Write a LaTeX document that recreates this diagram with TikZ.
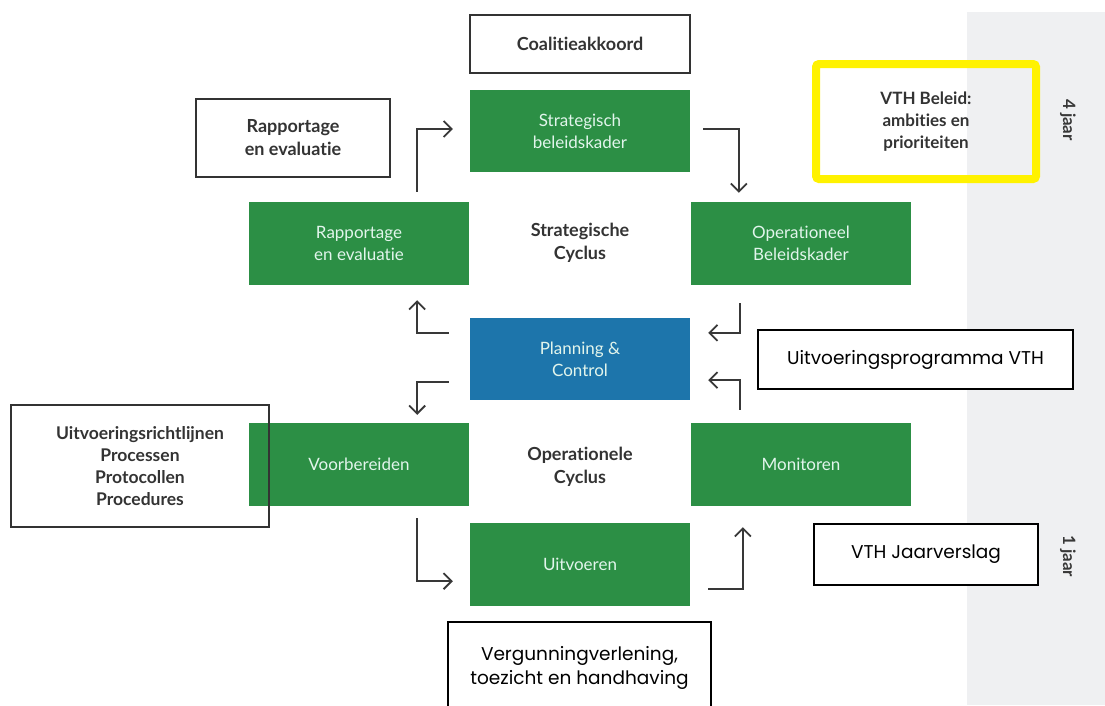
\documentclass[tikz,border=0pt]{standalone}
\usepackage{fontspec}
\setmainfont{Lato}[Ligatures=NoCommon]
\newfontfamily\popfont{Poppins}
\usetikzlibrary{arrows.meta}

\begin{document}
\begin{tikzpicture}[x=1pt,y=-1pt,
  flow/.style={draw=black!78,line width=1.8pt,-{Straight Barb[length=8pt,width=16pt]}},
  greenbox/.style={fill=vthgreen,text=lighttext,minimum width=220pt,minimum height=83pt,align=center,font=\fontsize{17}{22}\selectfont},
  notebox/.style={draw=black!80,line width=1.2pt,fill=white,text=black!80,align=center,font=\fontsize{18}{23}\selectfont\bfseries},
  plainbox/.style={draw=black,line width=1.3pt,fill=white,align=center,font=\popfont\fontsize{18.5}{24}\selectfont},
  yearlabel/.style={rotate=-90,font=\fontsize{17}{20}\selectfont\bfseries,text=black!78}]
\definecolor{vthgreen}{RGB}{44,143,69}
\definecolor{vthblue}{RGB}{29,117,171}
\definecolor{lighttext}{RGB}{226,245,236}
\definecolor{stripgrey}{RGB}{239,240,242}
\useasboundingbox (0,0) rectangle (1105,705);
\fill[stripgrey] (967,12) rectangle (1105,705);

% yearly labels
\node[yearlabel] (four) at (1068,120) {4 jaar};
\node[yearlabel] (one) at (1068,556) {1 jaar};

% strategic cycle
\node[notebox,minimum width=220pt,minimum height=58pt] (coal) at (580,44) {Coalitieakkoord};
\node[greenbox,minimum height=82pt] (strat) at (580,131) {Strategisch\\beleidskader};
\node[notebox,minimum width=194pt,minimum height=78pt] (rapw) at (293,138) {Rapportage\\en evaluatie};
\node[greenbox] (rapg) at (359,243.5) {Rapportage\\en evaluatie};
\node[greenbox] (oper) at (801,243.5) {Operationeel\\Beleidskader};
\node[text=black!80,align=center,font=\fontsize{18}{23}\selectfont\bfseries] (strcyc) at (580,243) {Strategische\\Cyclus};
\node[draw=yellow,line width=8pt,rounded corners=3pt,minimum width=220pt,minimum height=115pt,align=center,text=black!80,font=\fontsize{17}{22}\selectfont\bfseries] (beleid) at (926,121.5) {VTH Beleid:\\ambities en\\prioriteiten};

% planning & control
\node[greenbox,fill=vthblue,minimum height=82pt] (pc) at (580,359) {Planning \&\\Control};
\node[plainbox,minimum width=315pt,minimum height=59pt] (uitp) at (915.5,359.5) {Uitvoeringsprogramma VTH};

% operational cycle
\node[greenbox] (voor) at (359,464.5) {Voorbereiden};
\node[notebox,fill=none,minimum width=258pt,minimum height=122pt,font=\fontsize{17.5}{22}\selectfont\bfseries] (uitr) at (140,466) {Uitvoeringsrichtlijnen\\Processen\\Protocollen\\Procedures};
\node[greenbox] (mon) at (801,464.5) {Monitoren};
\node[text=black!80,align=center,font=\fontsize{18}{23}\selectfont\bfseries] (opcyc) at (580,467) {Operationele\\Cyclus};
\node[greenbox] (uitv) at (580,564.5) {Uitvoeren};
\node[plainbox,minimum width=224pt,minimum height=61pt] (jaar) at (926,554.5) {VTH Jaarverslag};
\node[plainbox,minimum width=263pt,minimum height=92pt] (verg) at (579.5,668) {Vergunningverlening,\\toezicht en handhaving};

% elbow arrows round the cycles
\draw[flow] ([xshift=-52pt,yshift=10pt]rapg.north east) |- ([xshift=-17pt,yshift=2pt]strat.west);
\draw[flow] ([xshift=13pt,yshift=2pt]strat.east) -| ([xshift=48pt,yshift=9pt]oper.north west);
\draw[flow] ([xshift=49pt,yshift=-18pt]oper.south west) |- ([xshift=18pt,yshift=-15pt]pc.north east);
\draw[flow] ([xshift=49pt,yshift=13pt]mon.north west) |- ([xshift=18pt,yshift=20pt]pc.south east);
\draw[flow] ([xshift=-21pt,yshift=-15pt]pc.north west) -| ([xshift=-52pt,yshift=-15pt]rapg.south east);
\draw[flow] ([xshift=-21pt,yshift=18pt]pc.south west) -| ([xshift=-52pt,yshift=8pt]voor.north east);
\draw[flow] ([xshift=-52pt,yshift=-12pt]voor.south east) |- ([xshift=-17pt,yshift=25pt]uitv.south west);
\draw[flow] ([xshift=18pt,yshift=17pt]uitv.south east) -| ([xshift=52pt,yshift=-21pt]mon.south west);
\end{tikzpicture}
\end{document}
